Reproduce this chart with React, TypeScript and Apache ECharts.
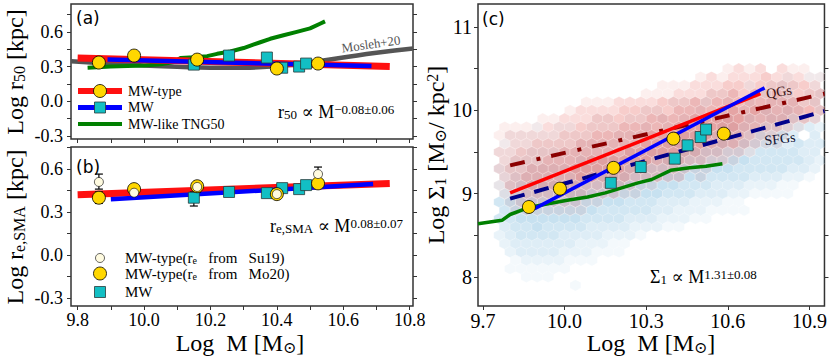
import React, { useEffect, useRef } from 'react';
import * as echarts from 'echarts';

const SERIF = '"Liberation Serif", "Times New Roman", "DejaVu Serif", serif';
const SANS = '"DejaVu Sans", sans-serif';

// ---------- Panel (a): Log r50 ----------
const massTypeA = [9.864, 9.97, 10.16, 10.40, 10.524];
const r50Type = [0.335, 0.395, 0.36, 0.283, 0.326];
const massMWA = [10.15, 10.256, 10.37, 10.416, 10.467, 10.488];
const r50MW = [0.317, 0.395, 0.378, 0.29, 0.30, 0.326];
const fitTypeA = [[9.80, 0.375], [10.74, 0.30]];
const fitMWA = [[9.89, 0.36], [10.685, 0.305]];
const moslehMass = [9.78, 9.9, 10.0, 10.1, 10.2, 10.3, 10.38, 10.45, 10.52, 10.6, 10.7, 10.81];
const moslehR50 = [0.345, 0.325, 0.31, 0.298, 0.29, 0.29, 0.30, 0.318, 0.345, 0.378, 0.42, 0.456];
const tngMass = [9.83, 9.9, 9.95, 10.0, 10.05, 10.09, 10.11, 10.15, 10.19, 10.22, 10.26, 10.3, 10.35, 10.38, 10.42, 10.46, 10.5, 10.53, 10.545];
const tngR50 = [0.29, 0.30, 0.305, 0.31, 0.32, 0.34, 0.375, 0.38, 0.39, 0.41, 0.43, 0.46, 0.51, 0.54, 0.57, 0.60, 0.63, 0.67, 0.69];
const errTypeA = [[9.864, 0.295, 0.37]];

// ---------- Panel (b): Log re,SMA ----------
const reMo20 = [0.40, 0.46, 0.48, 0.425, 0.50];
const reSu19 = [0.51, 0.435, 0.475, 0.425, 0.565];
const reMW = [0.40, 0.44, 0.432, 0.467, 0.46, 0.488];
const fitTypeB = [[9.80, 0.42], [10.74, 0.50]];
const fitMWB = [[9.90, 0.39], [10.69, 0.495]];
const errMo20 = [[9.864, 0.36, 0.44], [9.97, 0.43, 0.49], [10.16, 0.44, 0.51], [10.40, 0.40, 0.45], [10.524, 0.47, 0.53]];
const errSu19 = [[9.864, 0.46, 0.565], [10.524, 0.52, 0.614]];
const errMWB = [[10.15, 0.342, 0.44]];

// ---------- Panel (c): Log Sigma1 ----------
const massTypeC = [9.869, 9.983, 10.18, 10.40, 10.585];
const sigType = [8.84, 9.06, 9.31, 9.66, 9.72];
const massMWC = [10.17, 10.28, 10.405, 10.452, 10.50, 10.52];
const sigMW = [9.13, 9.32, 9.42, 9.58, 9.68, 9.77];
const fitTypeC = [[9.80, 9.01], [10.72, 10.20]];
const fitMWC = [[9.89, 8.82], [10.735, 10.27]];
const qgMedian = [[9.80, 9.34], [10.955, 10.20]];
const sfgMedian = [[9.80, 8.94], [10.955, 9.99]];
const tngSigMass = [9.682, 9.77, 9.80, 9.865, 9.94, 10.01, 10.085, 10.15, 10.21, 10.27, 10.32, 10.39, 10.46, 10.52, 10.58];
const tngSigma = [8.64, 8.68, 8.75, 8.83, 8.88, 8.92, 8.96, 9.01, 9.07, 9.13, 9.17, 9.28, 9.31, 9.33, 9.36];

// hexbin background (density levels 0-9 read per hexagon row)
const hexRowY = [10.5, 10.4, 10.3, 10.2, 10.1, 10.0, 9.9, 9.8, 9.7, 9.6, 9.5, 9.4, 9.3, 9.2, 9.1, 9.0, 8.9, 8.8, 8.7, 8.6, 8.5, 8.4, 8.3, 8.2, 8.1, 8.0, 7.9];
const sfgDensity = [
  '',
  '0000000000000000000000000001011',
  '0000000000000000000000001012101',
  '0000000000000000000011101212012',
  '0000000000000000011121202122212',
  '0000000000000011011212222323202',
  '0000000000110111212222323233322',
  '0000101101111121222223332333332',
  '0011111111112222223333333434303',
  '0111111122222222333334344443433',
  '0111222222222333334444443444433',
  '0122222233333333444444554444432',
  '0222333333333444445555544444332',
  '0233333334444444555544443332210',
  '0234444444445555554443332221100',
  '0344445555555555444333221111000',
  '0455555555555444333222110000000',
  '0455555555444443322211110000000',
  '0445555554444333222110000000000',
  '0344544443333222110000000000000',
  '0234444333322210000000000000000',
  '0233333322211000000000000000000',
  '0023333222111000000000000000000',
  '0012222111000000000000000000000',
  '0011111100000000000000000000000',
  '0001110000000000000000000000000',
  '0000000010000000000000000000000',
];
const qgDensity = [
  '0000000000000000000000121202110',
  '0000000000000000000121222322211',
  '0000000000000000111222332333332',
  '0000000000000011122233434343333',
  '0000000001112222333434444444433',
  '0000000122223333344444545444443',
  '0000011222333334444555554444332',
  '0111122233334444455555544332100',
  '0122222333444445555554443221000',
  '0122333344444455555544432110000',
  '0223333444444555554433221000000',
  '0233344445555554443322100000000',
  '0233444455555443332110000000000',
  '0234444455444333220100000000000',
  '0133444443333211000000000000000',
  '0123333332221100000000000000000',
  '0012222221100000000000000000000',
  '0011111110000000000000000000000',
];
const HEX_X0 = 9.72;
const HEX_DX = 0.04;
const HEX_DY = 0.1;

function hexCells(rows: string[]) {
  const out: number[][] = [];
  rows.forEach((row, r) => {
    for (let i = 0; i < row.length; i++) {
      const k = +row[i];
      if (k > 0) out.push([HEX_X0 + i * HEX_DX + (r % 2 ? HEX_DX / 2 : 0), hexRowY[r], k]);
    }
  });
  return out;
}

const pairs = (xs: number[], ys: number[]) => xs.map((x, i) => [x, ys[i]]);

// ---------- helpers ----------
type Part = [string, 'n' | 'b' | 'p'];
function richStyle(parts: Part[], F: number, f: number, family: string, color: string, pad: number) {
  const text = parts.map(([t, k]) => `{${k}|${t}}`).join('');
  return {
    text,
    rich: {
      n: { fontSize: F, fontFamily: family, lineHeight: F, verticalAlign: 'middle', fill: color },
      b: { fontSize: f, fontFamily: family, lineHeight: f, padding: [pad, 0, 0, 0], verticalAlign: 'bottom', fill: color },
      p: { fontSize: f, fontFamily: family, lineHeight: f, padding: [0, 0, pad, 0], verticalAlign: 'top', fill: color },
    },
  };
}
function richText(x: number, y: number, parts: Part[], F: number, f: number, opts: any = {}) {
  const pad = opts.pad !== undefined ? opts.pad : F - f + 7;
  return {
    type: 'text', x, y, z: 20, rotation: opts.rotation || 0,
    style: { ...richStyle(parts, F, f, opts.family || SERIF, opts.color || '#000', pad), align: opts.align || 'left', verticalAlign: 'middle' },
  };
}
function plainText(x: number, y: number, text: string, size: number, opts: any = {}) {
  return {
    type: 'text', x, y, z: 20, rotation: opts.rotation || 0,
    style: { text, fontSize: size, fontFamily: opts.family || SERIF, fill: opts.color || '#000', align: opts.align || 'left', verticalAlign: 'middle' },
  };
}

function valAxis(gridIndex: number, min: number, max: number, labels: number[], ticks: number[], fmt: (v: number) => string, fontSize: number, position: string, showLabels: boolean, margin: number) {
  return {
    type: 'value', gridIndex, min, max, position,
    splitLine: { show: false },
    axisLine: { show: false, onZero: false },
    axisTick: { show: true, inside: false, length: 4, lineStyle: { color: '#333', width: 1 }, customValues: ticks },
    axisLabel: { show: showLabels, customValues: labels, formatter: fmt, fontFamily: SERIF, fontSize, color: '#000', margin },
  };
}

function lineSeries(xi: number, yi: number, data: number[][], color: string, width: number, z: number, type: any = 'solid', smooth = false) {
  return {
    type: 'line', xAxisIndex: xi, yAxisIndex: yi, data, showSymbol: false, symbol: 'none', smooth, z,
    lineStyle: { color, width, type, cap: 'butt' }, silent: true, clip: true,
  };
}
function scatterSeries(xi: number, yi: number, data: number[][], kind: 'circle' | 'rect', fill: string, size: number, z: number, border = 0.8) {
  return {
    type: 'scatter', xAxisIndex: xi, yAxisIndex: yi, data, symbol: kind, symbolSize: size, z,
    itemStyle: { color: fill, borderColor: kind === 'rect' ? '#2a3a3a' : '#000', borderWidth: border, opacity: 1 },
  };
}
function errSeries(xi: number, yi: number, data: number[][], z: number) {
  return {
    type: 'custom', xAxisIndex: xi, yAxisIndex: yi, data, z,
    renderItem: (_p: any, api: any) => {
      const x = api.value(0);
      const a = api.coord([x, api.value(1)]);
      const b = api.coord([x, api.value(2)]);
      const cap = 4;
      const st = { stroke: '#000', lineWidth: 1.2 };
      return {
        type: 'group',
        children: [
          { type: 'line', shape: { x1: a[0], y1: a[1], x2: b[0], y2: b[1] }, style: st },
          { type: 'line', shape: { x1: a[0] - cap, y1: a[1], x2: a[0] + cap, y2: a[1] }, style: st },
          { type: 'line', shape: { x1: b[0] - cap, y1: b[1], x2: b[0] + cap, y2: b[1] }, style: st },
        ],
      };
    },
  };
}
function hexSeries(data: number[][], rgb: string, alphaPer: number, z: number) {
  return {
    type: 'custom', xAxisIndex: 2, yAxisIndex: 4, data, z, clip: true, silent: true,
    renderItem: (_p: any, api: any) => {
      const c = api.coord([api.value(0), api.value(1)]);
      const s = api.size([HEX_DX, HEX_DY], [api.value(0), api.value(1)]);
      const w = s[0] / 2;
      const R = s[1] / 1.5;
      return {
        type: 'polygon',
        shape: {
          points: [
            [c[0], c[1] - R], [c[0] + w, c[1] - R / 2], [c[0] + w, c[1] + R / 2],
            [c[0], c[1] + R], [c[0] - w, c[1] + R / 2], [c[0] - w, c[1] - R / 2],
          ],
        },
        style: {
          fill: `rgba(${rgb},${Math.min(1, api.value(2) * alphaPer)})`,
          stroke: 'rgba(255,255,255,0.35)',
          lineWidth: 0.6,
        },
      };
    },
  };
}

function buildOption() {
  const f1 = (v: number) => v.toFixed(1);
  const f0 = (v: number) => String(v);
  const ticksAB = [9.8, 9.9, 10.0, 10.1, 10.2, 10.3, 10.4, 10.5, 10.6, 10.7, 10.8];
  const yTicksAB = [-0.3, -0.15, 0, 0.15, 0.3, 0.45, 0.6, 0.75];
  const yLabelsAB = [-0.3, 0, 0.3, 0.6];
  const xLabelsC = [9.7, 10.0, 10.3, 10.6, 10.9];
  const yTicksC = [8, 8.5, 9, 9.5, 10, 10.5, 11];
  const yLabelsC = [8, 9, 10, 11];
  const gridStyle = { show: true, borderColor: '#333', borderWidth: 1.5, backgroundColor: 'transparent' };

  const GOLD = '#FFD700';
  const CYAN = '#12BFC4';
  const IVORY = '#FFFBE0';

  const graphic = [
    plainText(76, 18, '(a)', 17, { family: SANS }),
    plainText(76, 167, '(b)', 17, { family: SANS }),
    plainText(482, 19, '(c)', 17, { family: SANS }),
    plainText(371, 44, 'Mosleh+20', 13, { color: '#555', align: 'center', rotation: 0.14 }),
    plainText(779, 92, 'QGs', 14, { color: '#3a1010', align: 'center', rotation: 0.16 }),
    plainText(780, 139, 'SFGs', 14, { color: '#101030', align: 'center', rotation: 0.12 }),
    // legend (a)
    { type: 'line', z: 19, shape: { x1: 78, y1: 91, x2: 122, y2: 91 }, style: { stroke: '#ff1010', lineWidth: 6 } },
    { type: 'circle', z: 20, shape: { cx: 100, cy: 91, r: 6.5 }, style: { fill: GOLD, stroke: '#000', lineWidth: 0.8 } },
    plainText(128, 91, 'MW-type', 14),
    { type: 'line', z: 19, shape: { x1: 78, y1: 107.5, x2: 122, y2: 107.5 }, style: { stroke: '#0000ff', lineWidth: 5 } },
    { type: 'rect', z: 20, shape: { x: 94.5, y: 102, width: 11, height: 11 }, style: { fill: CYAN, stroke: '#2a3a3a', lineWidth: 0.8 } },
    plainText(128, 107.5, 'MW', 14),
    { type: 'line', z: 19, shape: { x1: 78, y1: 124, x2: 122, y2: 124 }, style: { stroke: '#008000', lineWidth: 4 } },
    plainText(128, 124, 'MW-like TNG50', 14),
    // legend (b)
    { type: 'circle', z: 20, shape: { cx: 100, cy: 258, r: 4.5 }, style: { fill: IVORY, stroke: '#000', lineWidth: 0.6 } },
    richText(125, 258, [['MW-type(r', 'n'], ['e', 'b'], ['   from   Su19)', 'n']], 15, 10, { pad: 4 }),
    { type: 'circle', z: 20, shape: { cx: 100, cy: 273.5, r: 6.5 }, style: { fill: GOLD, stroke: '#000', lineWidth: 0.8 } },
    richText(125, 274, [['MW-type(r', 'n'], ['e', 'b'], ['   from   Mo20)', 'n']], 15, 10, { pad: 4 }),
    { type: 'rect', z: 20, shape: { x: 94.5, y: 286.5, width: 11, height: 11 }, style: { fill: CYAN, stroke: '#2a3a3a', lineWidth: 0.8 } },
    plainText(125, 292, 'MW', 15),
    // relations
    richText(278, 112, [['r', 'n'], ['50', 'b'], [' ∝ M', 'n'], ['−0.08±0.06', 'p']], 18, 13),
    richText(270, 226, [['r', 'n'], ['e,SMA', 'b'], [' ∝ M', 'n'], ['0.08±0.07', 'p']], 18, 13),
    richText(650, 277, [['Σ', 'n'], ['1', 'b'], [' ∝ M', 'n'], ['1.31±0.08', 'p']], 18, 13),
    // axis titles
    richText(15, 72, [['Log r', 'n'], ['50', 'b'], [' [kpc]', 'n']], 24, 16, { align: 'center', rotation: Math.PI / 2, pad: 10 }),
    richText(15, 227, [['Log r', 'n'], ['e,SMA', 'b'], [' [kpc]', 'n']], 24, 16, { align: 'center', rotation: Math.PI / 2, pad: 10 }),
    richText(436, 155, [['Log Σ', 'n'], ['1', 'b'], [' [M', 'n'], ['⊙', 'b'], ['/ kpc', 'n'], ['2', 'p'], [']', 'n']], 24, 16, { align: 'center', rotation: Math.PI / 2, pad: 10 }),
    richText(240, 343, [['Log  M [M', 'n'], ['⊙', 'b'], [']', 'n']], 24, 16, { align: 'center', pad: 4 }),
    richText(651, 343, [['Log  M [M', 'n'], ['⊙', 'b'], [']', 'n']], 24, 16, { align: 'center', pad: 4 }),
  ];

  return {
    animation: false,
    backgroundColor: '#fff',
    grid: [
      { left: 71, top: 4, width: 342, height: 135, ...gridStyle },
      { left: 71, top: 147, width: 342, height: 159, ...gridStyle },
      { left: 478, top: 4, width: 347, height: 302, ...gridStyle },
    ],
    xAxis: [
      valAxis(0, 9.78, 10.81, [], ticksAB, f1, 18, 'bottom', false, 6),
      valAxis(1, 9.78, 10.81, [9.8, 10.0, 10.2, 10.4, 10.6, 10.8], ticksAB, f1, 18, 'bottom', true, 5),
      valAxis(2, 9.682, 10.955, xLabelsC, xLabelsC, f1, 20, 'bottom', true, 5),
    ],
    yAxis: [
      valAxis(0, -0.325, 0.84, yLabelsAB, yTicksAB, f1, 18, 'left', true, 8),
      valAxis(0, -0.325, 0.84, [], yTicksAB, f1, 18, 'right', false, 8),
      valAxis(1, -0.356, 0.754, yLabelsAB, yTicksAB, f1, 18, 'left', true, 8),
      valAxis(1, -0.356, 0.754, [], yTicksAB, f1, 18, 'right', false, 8),
      valAxis(2, 7.652, 11.276, yLabelsC, yTicksC, f0, 20, 'left', true, 6),
      valAxis(2, 7.652, 11.276, [], yTicksC, f0, 20, 'right', false, 6),
    ],
    graphic: { elements: graphic },
    series: [
      // (a)
      lineSeries(0, 0, pairs(moslehMass, moslehR50), '#555555', 4.5, 2, 'solid', true),
      lineSeries(0, 0, pairs(tngMass, tngR50), '#008000', 4, 3),
      lineSeries(0, 0, fitTypeA, '#ff1010', 7, 4),
      lineSeries(0, 0, fitMWA, '#0000ff', 4.5, 5),
      errSeries(0, 0, errTypeA, 6),
      scatterSeries(0, 0, pairs(massMWA, r50MW), 'rect', CYAN, 11, 7),
      scatterSeries(0, 0, pairs(massTypeA, r50Type), 'circle', GOLD, 13, 8),
      // (b)
      lineSeries(1, 2, fitTypeB, '#ff1010', 7, 4),
      lineSeries(1, 2, fitMWB, '#0000ff', 4.5, 5),
      errSeries(1, 2, errMWB, 6),
      errSeries(1, 2, errMo20, 6),
      errSeries(1, 2, errSu19, 6),
      scatterSeries(1, 2, pairs(massMWA, reMW), 'rect', CYAN, 11, 7),
      scatterSeries(1, 2, pairs(massTypeA, reMo20), 'circle', GOLD, 13, 8),
      scatterSeries(1, 2, pairs(massTypeA, reSu19), 'circle', IVORY, 9, 9, 0.6),
      // (c)
      hexSeries(hexCells(sfgDensity), '107,174,214', 0.075, 1),
      hexSeries(hexCells(qgDensity), '222,45,38', 0.08, 1),
      lineSeries(2, 4, pairs(tngSigMass, tngSigma), '#008000', 3.5, 3),
      lineSeries(2, 4, qgMedian, '#8b0000', 4, 3, [15, 12, 4, 11]),
      lineSeries(2, 4, sfgMedian, '#00008b', 4, 3, [15, 10]),
      lineSeries(2, 4, fitTypeC, '#ff0000', 3.5, 4),
      lineSeries(2, 4, fitMWC, '#0000ff', 3.5, 5),
      scatterSeries(2, 4, pairs(massMWC, sigMW), 'rect', CYAN, 11, 7),
      scatterSeries(2, 4, pairs(massTypeC, sigType), 'circle', GOLD, 13, 8),
    ],
  };
}

export default function App() {
  const ref = useRef<HTMLDivElement>(null);
  useEffect(() => {
    const chart = echarts.init(ref.current!, null, { renderer: 'svg' });
    chart.setOption(buildOption() as any);
    return () => chart.dispose();
  }, []);
  return (
    <div
      ref={ref}
      style={{ position: 'fixed', left: 0, top: 0, width: 830, height: 360, background: '#fff' }}
    />
  );
}
